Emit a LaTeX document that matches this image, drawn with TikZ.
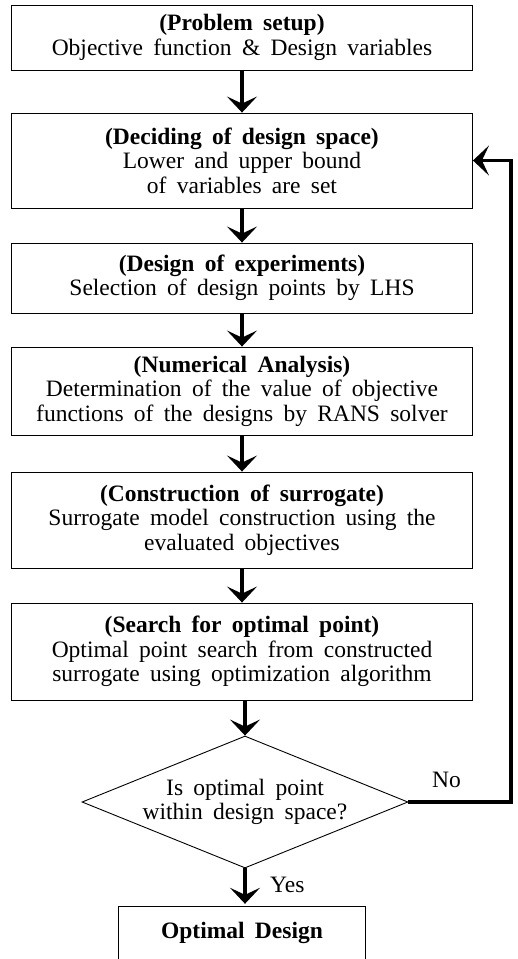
\documentclass[tikz,border=0pt]{standalone}
\usepackage{fontspec}
\setmainfont{Liberation Serif}[WordSpace=1.75]
\usetikzlibrary{arrows.meta,shapes.geometric}
\begin{document}
\begin{tikzpicture}[x=1pt,y=-1pt,
  txt/.style={font=\fontsize{23.5}{24.5}\selectfont, align=center, inner sep=0pt},
  box/.style={txt, draw, line width=0.9pt, minimum width=461pt},
  flow/.style={line width=3.5pt, -{Stealth[length=16pt,width=30pt,inset=7pt]}},
]
\useasboundingbox (0,0) rectangle (518,959);

\node[box, minimum height=65pt] (b1) at (242,37.5)
  {\textbf{(Problem setup)}\\Objective function \& Design variables};
\node[box, minimum height=95pt] (b2) at (242,160.5)
  {\textbf{(Deciding of design space)}\\Lower and upper bound\\of variables are set};
\node[box, minimum height=70pt] (b3) at (242,278)
  {\textbf{(Design of experiments)}\\Selection of design points by LHS};
\node[box, minimum height=88pt] (b4) at (242,391)
  {\textbf{(Numerical Analysis)}\\Determination of the value of objective\\functions of the designs by RANS solver};
\node[box, minimum height=96pt] (b5) at (242,520)
  {\textbf{(Construction of surrogate)}\\Surrogate model construction using the\\evaluated objectives};
\node[box, minimum height=97pt] (b6) at (242,651.5)
  {\textbf{(Search for optimal point)}\\Optimal point search from constructed\\surrogate using optimization algorithm};
\node[txt, draw, line width=0.9pt, shape=diamond, shape aspect=2.45,
  minimum width=326pt, minimum height=132pt] (d) at (245,802)
  {Is optimal point\\within design space?};
\node[txt, minimum width=247pt, minimum height=52pt] (od) at (242,933)
  {\textbf{Optimal Design}};
\draw[line width=0.9pt] (od.south west) -- (od.north west) -- (od.north east) -- (od.south east);

\node[txt, anchor=west] (no) at (432,780) {No};
\node[txt, anchor=west] (yes) at (270,885) {Yes};

\draw[flow] (b1) -- (b2);
\draw[flow] (b2) -- (b3);
\draw[flow] (b3) -- (b4);
\draw[flow] (b4) -- (b5);
\draw[flow] (b5) -- (b6);
\draw[flow] (b6.south -| d.north) -- (d.north);
\draw[flow, shorten >=3pt] (d.south) -- (d.south |- od.north);
\coordinate (fbc) at (511,0);
\draw[flow] (d.east) -- (d.east -| fbc) |- (b2.east);
\end{tikzpicture}
\end{document}
